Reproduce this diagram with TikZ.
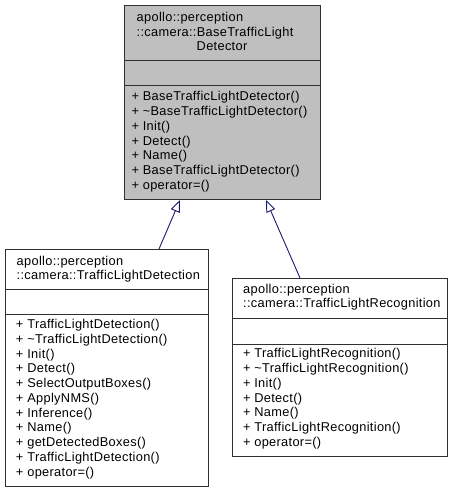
\documentclass[tikz,border=0pt]{standalone}
\usepackage{fontspec}
\setmainfont{Liberation Sans}[LetterSpace=2.5]
\usetikzlibrary{arrows.meta,calc}
\definecolor{edgeblue}{HTML}{191970}
\definecolor{basefill}{HTML}{BFBFBF}
\definecolor{boxline}{HTML}{303030}
\tikzset{
  classbox/.style={draw=boxline, line width=1pt, inner sep=0pt, anchor=north west},
  sepline/.style={draw=boxline, line width=1pt},
  txt/.style={inner sep=0pt, anchor=west, text height=9pt, text depth=2.6pt,
    font=\fontsize{12.8pt}{14.8pt}\selectfont},
  ctxt/.style={txt, anchor=center},
  inh/.style={draw=edgeblue, line width=0.9pt,
    -{Triangle[length=12pt, width=9.5pt, fill=white, line width=0.9pt]}},
}
\begin{document}
\begin{tikzpicture}[x=1pt, y=-1pt]
\useasboundingbox (0,0) rectangle (453,492);
% base class
\node[classbox, fill=basefill, minimum width=196pt, minimum height=194pt] (base) at (124,5) {};
\draw[sepline] (base.west |- 0,61) -- (base.east |- 0,61);
\draw[sepline] (base.west |- 0,86) -- (base.east |- 0,86);
\node[txt] (bt1) at (136.5,18.8) {apollo::perception};
\node[txt] (bt2) at (136.5,33.3) {::camera::BaseTrafficLight};
\node[ctxt] (bt3) at (222,47.8) {Detector};
\foreach [count=\i] \t in {{+ BaseTrafficLightDetector()},{+ \textasciitilde BaseTrafficLightDetector()},{+ Init()},{+ Detect()},{+ Name()},{+ BaseTrafficLightDetector()},{+ operator=()}}
  \node[txt] (bm\i) at (131.3,{97.6+14.75*(\i-1)}) {\t};
% detection class
\node[classbox, fill=white, minimum width=203pt, minimum height=237pt] (det) at (5,249) {};
\draw[sepline] (det.west |- 0,289) -- (det.east |- 0,289);
\draw[sepline] (det.west |- 0,314) -- (det.east |- 0,314);
\node[txt] (dt1) at (16.5,261.8) {apollo::perception};
\node[txt] (dt2) at (16.5,276) {::camera::TrafficLightDetection};
\foreach [count=\i] \t in {{+ TrafficLightDetection()},{+ \textasciitilde TrafficLightDetection()},{+ Init()},{+ Detect()},{+ SelectOutputBoxes()},{+ ApplyNMS()},{+ Inference()},{+ Name()},{+ getDetectedBoxes()},{+ TrafficLightDetection()},{+ operator=()}}
  \node[txt] (dm\i) at (15.8,{325.5+14.75*(\i-1)}) {\t};
% recognition class
\node[classbox, fill=white, minimum width=215pt, minimum height=178pt] (rec) at (232,278) {};
\draw[sepline] (rec.west |- 0,318) -- (rec.east |- 0,318);
\draw[sepline] (rec.west |- 0,344) -- (rec.east |- 0,344);
\node[txt] (rt1) at (243,289.8) {apollo::perception};
\node[txt] (rt2) at (243,304.5) {::camera::TrafficLightRecognition};
\foreach [count=\i] \t in {{+ TrafficLightRecognition()},{+ \textasciitilde TrafficLightRecognition()},{+ Init()},{+ Detect()},{+ Name()},{+ TrafficLightRecognition()},{+ operator=()}}
  \node[txt] (rm\i) at (242.8,{354.5+14.8*(\i-1)}) {\t};
% inheritance
\draw[inh] ($(det.north west)+(154,0)$) -- ($(base.south west)+(56,0)$);
\draw[inh] ($(rec.north west)+(68,0)$) -- ($(base.south west)+(142,0)$);
\end{tikzpicture}
\end{document}
